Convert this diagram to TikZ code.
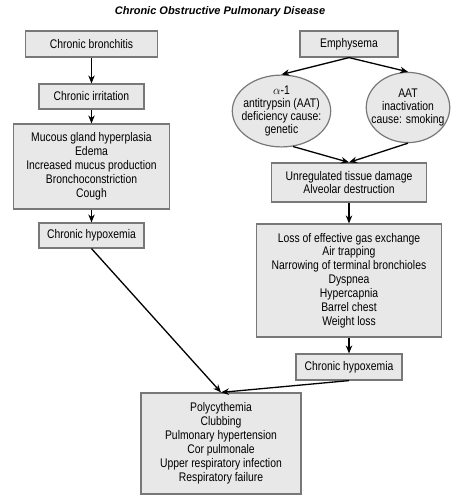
\documentclass[tikz,border=0pt]{standalone}
\usepackage{fontspec}
\setmainfont{Liberation Sans}
\newfontfamily\copdfont[FakeStretch=0.83]{Liberation Sans}
\definecolor{copdgray}{RGB}{120,120,120}
\definecolor{copdfill}{RGB}{232,232,232}
\usetikzlibrary{arrows.meta,shapes.geometric}

\begin{document}
\begin{tikzpicture}[x=1pt,y=-1pt,
  box/.style={draw=copdgray,fill=copdfill,line width=1.2pt,align=center,
    inner sep=2pt,font=\copdfont\fontsize{12.5}{13.9}\selectfont},
  oval/.style={ellipse,draw=copdgray,fill=copdfill,line width=1.2pt,align=center,
    font=\copdfont\fontsize{12.5}{13.2}\selectfont},
  flow/.style={-{Stealth[length=8pt,width=6.5pt]},line width=1.3pt,black}]
  \useasboundingbox (0,0) rectangle (461,500);
  % Title
  \node[font=\fontsize{11}{13}\selectfont\bfseries\itshape] (title) at (220,12)
    {Chronic Obstructive Pulmonary Disease};
  % Chronic bronchitis branch
  \node[box,minimum width=132pt,minimum height=26pt] (bronch) at (91.5,44)
    {Chronic bronchitis};
  \node[box,minimum width=105pt,minimum height=25pt] (irrit) at (91.5,96.5)
    {Chronic irritation};
  \node[box,minimum width=156pt,minimum height=85pt] (mucous) at (91.5,166.5)
    {Mucous gland hyperplasia\\Edema\\Increased mucus production\\
     Bronchoconstriction\\Cough};
  \node[box,minimum width=105pt,minimum height=25pt] (hypoL) at (91.5,235.5)
    {Chronic hypoxemia};
  % Emphysema branch
  \node[box,minimum width=98pt,minimum height=26pt] (emph) at (349,44)
    {Emphysema};
  \node[oval,inner xsep=-5pt,inner ysep=0pt] (genetic) at (281.5,111)
    {$\alpha$-1\\antitrypsin (AAT)\\deficiency cause:\\genetic};
  \node[oval,inner xsep=-7pt,inner ysep=6pt] (smoking) at (408,107.5)
    {AAT\\inactivation\\cause: smoking};
  \node[box,minimum width=155pt,minimum height=39pt] (damage) at (349,182.5)
    {Unregulated tissue damage\\Alveolar destruction};
  \node[box,minimum width=185pt,minimum height=113pt] (loss) at (349,280.5)
    {Loss of effective gas exchange\\Air trapping\\
     Narrowing of terminal bronchioles\\Dyspnea\\Hypercapnia\\
     Barrel chest\\Weight loss};
  \node[box,minimum width=106pt,minimum height=26pt] (hypoR) at (349,367)
    {Chronic hypoxemia};
  % Common outcome
  \node[box,minimum width=160pt,minimum height=101pt] (outcome) at (221,443.5)
    {Polycythemia\\Clubbing\\Pulmonary hypertension\\Cor pulmonale\\
     Upper respiratory infection\\Respiratory failure};
  % Arrows
  \draw[flow] (bronch) -- (irrit);
  \draw[flow] (irrit) -- (mucous);
  \draw[flow] (mucous) -- (hypoL);
  \draw[flow] (hypoL.south) -- (outcome.north);
  \draw[flow] (emph.south) -- (genetic.north);
  \draw[flow] (emph.south) -- (smoking.north);
  \draw[flow] (genetic.-72) -- (damage.north);
  \draw[flow] (smoking.south) -- (damage.north);
  \draw[flow] (damage) -- (loss);
  \draw[flow] (loss) -- (hypoR);
  \draw[flow] (hypoR.south) -- (outcome.north);
\end{tikzpicture}
\end{document}
